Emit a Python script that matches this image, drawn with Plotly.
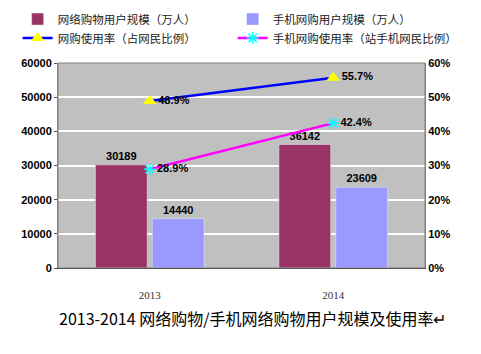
import plotly.graph_objects as go

years = ["2013", "2014"]
online_users = [30189, 36142]
mobile_users = [14440, 23609]
online_rate = [0.489, 0.557]
mobile_rate = [0.289, 0.424]

names = ["网络购物用户规模（万人）", "手机网购用户规模（万人）",
         "网购使用率（占网民比例）", "手机网购使用率（站手机网民比例）"]
title_text = "2013-2014 网络购物/手机网络购物用户规模及使用率↵"

label_font = dict(family="Liberation Sans", size=11, color="black", weight="bold")

fig = go.Figure()
fig.add_trace(go.Bar(x=years, y=online_users, name=names[0], marker_color="#993366",
                     text=[str(v) for v in online_users], textposition="outside",
                     textfont=label_font, cliponaxis=False, legend="legend"))
fig.add_trace(go.Bar(x=years, y=mobile_users, name=names[1], marker_color="#9999FF",
                     text=[str(v) for v in mobile_users], textposition="outside",
                     textfont=label_font, cliponaxis=False, legend="legend2"))
fig.add_trace(go.Scatter(x=years, y=online_rate, name=names[2], yaxis="y2",
                         mode="lines+markers+text",
                         line=dict(color="#0000FF", width=2.5),
                         marker=dict(symbol="triangle-up", size=12, color="#FFFF00",
                                     line=dict(width=0)),
                         text=[f"{v*100:.1f}%" for v in online_rate],
                         textposition="middle right", textfont=label_font, cliponaxis=False,
                         legend="legend"))
fig.add_trace(go.Scatter(x=years, y=mobile_rate, name=names[3], yaxis="y2",
                         mode="lines+markers+text",
                         line=dict(color="#FF00FF", width=2.5),
                         marker=dict(symbol="asterisk-open", size=10, color="#00FFFF",
                                     line=dict(width=1.5, color="#00FFFF")),
                         text=[f"{v*100:.1f}%" for v in mobile_rate],
                         textposition="middle right", textfont=label_font, cliponaxis=False,
                         legend="legend2"))

legend_font = dict(family="Noto Sans CJK SC", size=11.5, color="#222")
fig.update_layout(
    width=481, height=354,
    margin=dict(l=58, r=56, t=63, b=86, autoexpand=False),
    paper_bgcolor="white", plot_bgcolor="#C0C0C0",
    barmode="group", bargap=0.38, bargroupgap=0.09,
    showlegend=True,
    legend=dict(orientation="v", x=-0.11, xanchor="left", y=1.285, yanchor="top",
                font=legend_font, tracegroupgap=0, itemwidth=30, bgcolor="rgba(0,0,0,0)",
                traceorder="normal"),
    legend2=dict(orientation="v", x=0.476, xanchor="left", y=1.285, yanchor="top",
                 font=legend_font, tracegroupgap=0, itemwidth=30, bgcolor="rgba(0,0,0,0)",
                 traceorder="normal"),
    xaxis=dict(showline=True, linecolor="#333", linewidth=1, ticks="",
               tickfont=dict(family="Liberation Serif", size=11, color="#333"),
               ticklabelstandoff=17, mirror=False),
    yaxis=dict(range=[0, 60000], dtick=10000, showgrid=True, gridcolor="white", gridwidth=2,
               showline=True, linecolor="#808080", ticks="outside", ticklen=3,
               tickcolor="#555",
               tickfont=dict(family="Liberation Sans", size=11, color="black", weight="bold"),
               tickformat="d", zeroline=False),
    yaxis2=dict(range=[0, 0.6], dtick=0.1, overlaying="y", side="right", showgrid=False,
                showline=True, linecolor="#808080", tickformat=".0%",
                tickfont=dict(family="Liberation Sans", size=11, color="black", weight="bold"),
                zeroline=False),
    annotations=[dict(text=title_text, xref="paper", yref="paper", x=0.53, y=-0.245,
                      xanchor="center", yanchor="middle", showarrow=False,
                      font=dict(family="Noto Sans CJK SC", size=16, color="black"))],
    shapes=[dict(type="rect", xref="paper", yref="paper", x0=0, y0=0, x1=1, y1=1,
                 line=dict(color="#808080", width=1), layer="above")],
    font=dict(family="Liberation Sans", size=11),
)

fig.write_html("out.html")
